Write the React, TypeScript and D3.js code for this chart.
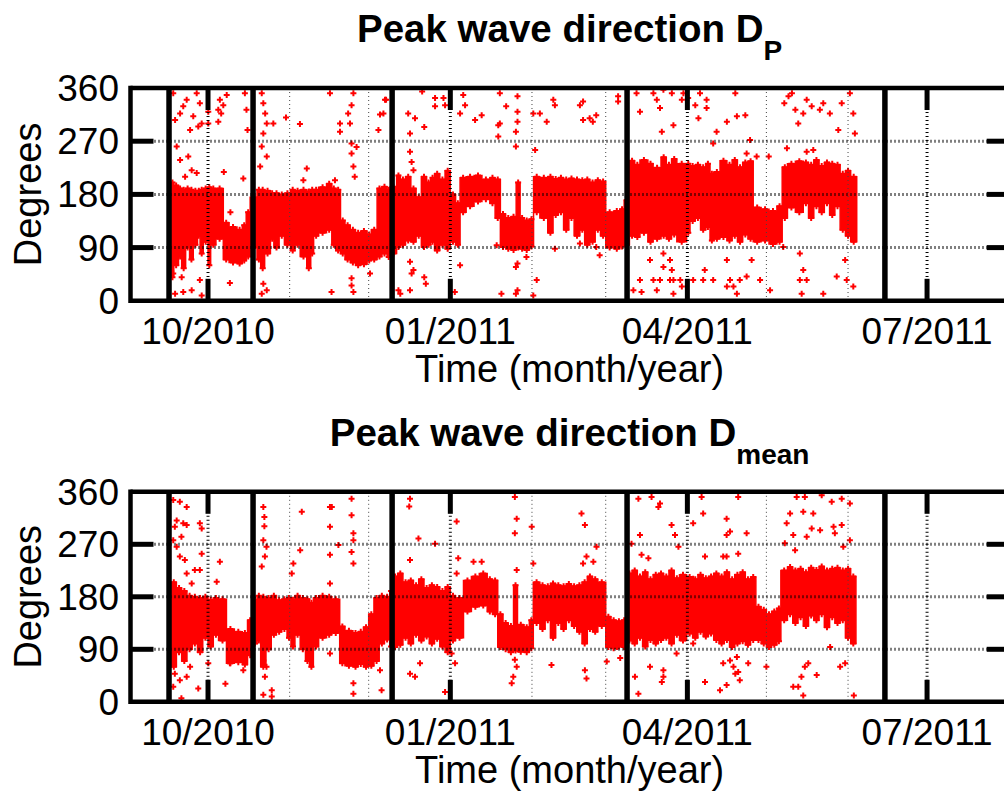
import React from 'react';
import * as d3 from 'd3';

// ---------- data (day offsets from 2010-09-01 UTC) ----------
const T0 = Date.UTC(2010, 8, 1);
const dayToDate = (d: number) => new Date(T0 + d * 86400000);

const xDomainDays = [0, 334];
const quarterTicks = ['2010-10-01', '2011-01-01', '2011-04-01', '2011-07-01'];
const monthGrid = ['2010-11-01', '2010-12-01', '2011-02-01', '2011-03-01', '2011-05-01', '2011-06-01'];
const yTicks = [0, 90, 180, 270, 360];
const yGrid = [90, 180, 270];
const deploymentDays = [15.2, 47.1, 99.9, 189.1, 287.0];

// dense band of Dp: [day, low, high] (step)
const dpBand: [number, number, number][] = [
  [16, 40, 200], [17, 60, 195], [18.8, 75, 190], [20, 55, 188], [21.5, 90, 190], [23, 70, 188],
  [24.4, 95, 186], [26, 110, 186], [27, 80, 188], [28.2, 100, 190], [30, 60, 192], [31, 95, 190],
  [33, 105, 190], [35.8, 70, 132], [38, 65, 125], [41, 63, 120], [43, 68, 128], [44.5, 75, 150],
  [46, 90, 175], [48.6, 70, 188], [50, 55, 188], [51.5, 80, 186], [53.7, 105, 182], [55, 90, 182],
  [57, 110, 180], [59, 95, 182], [61.3, 85, 188], [63, 95, 186], [65, 75, 188], [67.5, 55, 185],
  [69, 80, 188], [70.1, 110, 188], [72, 115, 192], [75, 120, 198], [77, 95, 190], [78.5, 85, 188],
  [80.3, 80, 136], [82, 70, 128], [84, 65, 120], [86, 60, 115], [88, 62, 118], [90.4, 68, 112],
  [92, 70, 120], [94.2, 75, 190], [96, 80, 193], [98, 74, 188], [99.2, 80, 193], [101.6, 91, 212],
  [103, 95, 205], [105, 102, 210], [107, 100, 190], [109, 110, 175], [111, 91, 210], [113, 95, 200],
  [114.5, 100, 208], [116, 85, 215], [118, 95, 205], [120, 88, 220], [122, 100, 180], [124, 95, 165],
  [125.7, 150, 208], [128, 160, 210], [131, 168, 212], [134, 172, 205], [137, 165, 208], [139, 140, 205],
  [141, 91, 147], [143, 88, 140], [145, 86, 142], [147, 90, 200], [148.5, 88, 140], [150, 86, 136],
  [152, 92, 138], [153.6, 150, 210], [156, 140, 208], [159, 115, 210], [161, 145, 206], [163, 150, 208],
  [165, 120, 205], [167, 140, 207], [169, 110, 205], [171.2, 120, 204], [173, 95, 205], [175, 100, 200],
  [177, 120, 204], [179, 110, 202], [181, 90, 150], [184, 88, 152], [186.4, 92, 155], [188, 95, 170],
  [190, 110, 237], [192, 108, 230], [194, 115, 238], [197, 100, 232], [199, 105, 225], [202, 110, 243],
  [204, 105, 230], [206, 112, 240], [208, 100, 232], [211.7, 115, 232], [213, 135, 228], [215, 140, 230],
  [217, 120, 226], [219, 125, 232], [220.6, 102, 215], [222, 105, 218], [224.4, 108, 237], [227, 102, 230],
  [229, 110, 238], [231, 100, 226], [233, 112, 234], [235, 105, 236], [237, 100, 158], [240, 102, 155],
  [243, 96, 152], [246, 100, 160], [248, 140, 226], [250, 158, 232], [253, 150, 236], [256, 165, 234],
  [258, 140, 230], [260, 160, 238], [262, 150, 228], [264, 165, 234], [266, 145, 232], [268, 160, 230],
  [270, 120, 215], [272, 110, 220], [274, 100, 210], [276.3, 100, 210],
];

// scattered Dp points: [day, degrees]
const dpScatter: [number, number][] = [
  [16.8, 351], [19.4, 317], [17.5, 306], [20.6, 329], [21.9, 340], [24.4, 312], [25.7, 351], [26.9, 334],
  [27.6, 300], [26.3, 295], [23.2, 289], [18.1, 261], [19.4, 238], [22.5, 244], [23.8, 221], [25.7, 216],
  [21.3, 210], [30.1, 320], [30.1, 300], [34.5, 340], [33.9, 323], [35.8, 331], [37.1, 348], [35, 317],
  [33.9, 303], [36, 218], [38.5, 150], [43.4, 207], [44.6, 323], [44, 351], [45, 289],
  [16.8, 46], [17.5, 12], [20.6, 15], [23.8, 18], [27.6, 9], [26.9, 35], [20, 40], [38.3, 30],
  [50.4, 351], [51, 334], [51.7, 317], [52.3, 300], [51, 283], [50.4, 261], [52.3, 244], [49.8, 227],
  [51, 29], [50.4, 12], [52.3, 18], [54.8, 300], [59.6, 310], [64.9, 299], [67.5, 224], [66.2, 204],
  [76.3, 351], [80.1, 300], [80.1, 286], [84.5, 331], [85.2, 351], [84.5, 266], [84.5, 249], [85.2, 227],
  [86.4, 260], [83.9, 300], [83.2, 317], [85.7, 210], [95.3, 315], [94.7, 289], [97.6, 340], [76.9, 15],
  [84.5, 38], [84.5, 26], [85.2, 15], [91.5, 46], [78.2, 204],
  [97.2, 340], [96.6, 317], [106, 317], [106.7, 283], [108.6, 309], [106.7, 252], [107.3, 235], [108, 221],
  [111.3, 354], [112.1, 294], [116.2, 343], [116.2, 329], [119.4, 343], [120, 331], [125.7, 317], [126.9, 348],
  [127.6, 331], [131.4, 306], [133.9, 314], [140.2, 297], [140.8, 300], [140.8, 351], [140.2, 278], [143.2, 329],
  [147.5, 320], [147.5, 303], [146.9, 286], [147.5, 346], [146.9, 261], [153.5, 317], [156, 317], [154.2, 255],
  [158.6, 303], [161.1, 340], [161.7, 331], [172.4, 337], [171.2, 331], [172.4, 306], [174.9, 309], [176.1, 303],
  [177.4, 314], [185.7, 346], [185.7, 337],
  [106.7, 66], [108, 52], [107.3, 46], [112.1, 40], [112.7, 29], [106.7, 18], [102.3, 18], [103, 12],
  [123.7, 15], [125.7, 60], [147.5, 63], [146.9, 57], [147.5, 18], [146.9, 12], [141.4, 12], [139.6, 94],
  [150.9, 74], [154.8, 35], [153.5, 9], [161.7, 88], [171.2, 97], [177.4, 91], [178.7, 77],
  [192.7, 351], [194, 320], [199.1, 351], [200.4, 340], [201.6, 326], [202.3, 286], [202.9, 357], [206.7, 297],
  [206.1, 351], [210.5, 351], [209.9, 340], [212.3, 343], [215, 331], [216.8, 351], [219.3, 340], [216.2, 309],
  [219.3, 326], [223.1, 286], [221.8, 266], [227, 303], [230.8, 312], [234, 314], [230.2, 351], [235.8, 272],
  [238.3, 244], [234.5, 249], [242.9, 244], [249.8, 258], [248.8, 334], [250.4, 346], [251.7, 351], [253, 323],
  [254.1, 300], [256, 317], [257.3, 340], [259.2, 329], [262.3, 323], [263.6, 334], [266.1, 317], [269.3, 289],
  [270.6, 334], [273.7, 351], [275, 317], [275.6, 283], [257.3, 252], [259.8, 255],
  [197.8, 69], [202.9, 80], [202.9, 57], [205.4, 69], [206.1, 52], [206.7, 35], [205.4, 35], [199.1, 35],
  [200.4, 18], [201.6, 35], [194, 35], [194.6, 15], [191.5, 18], [209.3, 35], [209.9, 24], [206.7, 12],
  [214.2, 35], [218, 35], [218.6, 52], [221.8, 35], [227, 69], [228.2, 35], [229.5, 24], [230.8, 12],
  [231.9, 35], [234.5, 41], [227, 24], [236.4, 69], [239.6, 35], [243.4, 18], [248.4, 91], [254.7, 80],
  [254.7, 35], [256, 52], [257.3, 35], [255.4, 12], [263.6, 12], [268.7, 41], [271.9, 69], [272.5, 35], [275, 24],
];

// dense band of Dmean: [day, low, high] (step)
const dmBand: [number, number, number][] = [
  [16, 60, 205], [18, 85, 195], [20, 70, 190], [22, 90, 182], [24, 100, 180], [26, 85, 178],
  [28, 110, 180], [30, 95, 175], [32, 115, 178], [34, 105, 176], [37, 66, 125], [40, 68, 120],
  [43, 64, 118], [45, 80, 140], [47, 100, 175], [48.6, 105, 182], [50, 60, 180], [52, 90, 178],
  [54, 115, 182], [56, 120, 174], [58, 125, 176], [60, 110, 178], [61.5, 95, 175], [63, 115, 182],
  [65, 90, 178], [67, 70, 176], [68.5, 60, 170], [70, 95, 178], [72, 110, 182], [75, 115, 180],
  [77, 118, 176], [80, 66, 129], [82, 62, 122], [85, 60, 118], [87, 65, 120], [89, 60, 128],
  [91, 62, 150], [93, 70, 178], [95, 100, 182], [97, 107, 180], [99, 95, 190], [100, 94, 215],
  [102, 98, 220], [104, 110, 205], [106, 100, 208], [108, 115, 200], [110, 105, 210], [112, 112, 195],
  [114, 100, 200], [116, 108, 197], [118, 95, 190], [120, 85, 197], [122, 105, 182], [124, 110, 178],
  [127, 155, 208], [130, 163, 215], [133, 165, 220], [136, 155, 210], [138, 150, 208], [140, 94, 150],
  [142, 90, 135], [144, 85, 130], [146, 88, 200], [147.5, 86, 132], [150, 85, 128], [152, 92, 140],
  [153.5, 135, 205], [156, 125, 200], [158, 140, 198], [160, 110, 203], [162, 135, 200], [164, 125, 198],
  [166, 140, 202], [168, 130, 198], [170, 120, 200], [172, 100, 205], [174, 125, 215], [176, 120, 210],
  [178, 130, 205], [181, 94, 146], [183, 92, 140], [185, 95, 138], [187, 94, 140], [189, 105, 220],
  [191, 100, 225], [193, 110, 215], [195, 95, 222], [197, 106, 210], [199, 100, 218], [201, 106, 220],
  [203, 110, 215], [205, 100, 225], [207, 115, 212], [209, 105, 218], [211.7, 117, 214], [214, 110, 210],
  [216, 120, 218], [218, 112, 212], [220, 117, 215], [222, 106, 220], [224, 100, 215], [226, 106, 222],
  [228, 94, 210], [230, 100, 218], [232, 104, 222], [234, 98, 210], [236, 106, 214], [238, 106, 163],
  [240, 100, 158], [242, 94, 150], [244, 98, 155], [246, 104, 160], [247.5, 140, 225], [250, 150, 231],
  [252, 135, 225], [254, 145, 228], [256, 130, 222], [258, 148, 230], [260, 140, 226], [262, 150, 232],
  [264, 128, 225], [266, 145, 228], [268, 135, 230], [270, 140, 225], [272, 110, 228], [274, 100, 215],
  [276, 100, 215],
];

// scattered Dmean points: [day, degrees]
const dmScatter: [number, number][] = [
  [16.8, 346], [19.3, 343], [21.9, 334], [18.1, 311], [17.4, 300], [20.6, 306], [21.9, 303], [19.9, 283],
  [16.8, 277], [18.1, 266], [19.3, 249], [21.2, 243], [21.9, 220], [26.9, 306], [27.6, 297], [27.6, 254],
  [26.9, 226], [34.5, 240], [33.3, 206], [23.8, 203], [25, 226],
  [17.4, 48], [19.3, 37], [16.8, 26], [19.9, 6], [21.9, 43], [23.2, 60], [26.3, 23], [30.1, 66],
  [36.6, 31], [38.3, 66], [43.4, 54],
  [51, 334], [51.4, 317], [51.4, 301], [51, 277], [51.6, 249], [50.4, 232], [52.2, 266], [51, 71],
  [52.2, 60], [51.6, 43], [54.2, 20], [54.2, 9], [51, 12], [62.4, 237], [61.8, 220], [65.6, 326],
  [65, 260], [76.3, 334], [76.3, 300], [76.3, 252], [76.3, 203], [76.3, 83],
  [84.5, 348], [84.5, 320], [85.2, 289], [85.2, 277], [84.5, 257], [85.2, 237], [85.2, 32], [85.2, 14],
  [95.9, 20], [95.3, 54], [79.5, 269], [77, 334], [106.7, 348], [106.4, 335], [109.9, 280], [106.7, 243],
  [106.7, 48], [108.6, 43], [110.5, 66], [116.2, 271], [120, 17], [124.4, 309], [125, 246], [124.4, 220],
  [123.8, 66], [122.5, 83], [130.8, 240], [133.9, 240], [145.3, 32], [146.5, 351], [147.2, 314], [146.5, 289],
  [147.2, 226], [146.5, 72], [147.2, 60], [145.9, 43], [141.1, 94], [153.5, 237], [152.9, 300], [160.4, 63],
  [171.8, 323], [173.1, 303], [173.7, 249], [172.4, 237], [176.3, 240], [173.7, 40], [173.1, 54], [177.5, 266],
  [181.4, 69], [186.5, 75], [185.3, 94], [190.8, 271], [193.4, 348], [198.4, 351], [201, 334], [194, 286],
  [197.2, 246], [194.6, 252], [192.1, 43], [193.4, 14], [197.8, 60], [202.3, 34], [202.9, 43],
  [201.6, 340], [206, 303], [207.3, 286], [208.6, 266], [214.2, 306], [217.4, 351], [218, 323], [226.9, 314],
  [228.2, 292], [226.9, 286], [231.3, 351], [231.3, 254], [234.5, 289], [225.6, 249], [226.9, 249], [253.5, 351],
  [256.6, 351], [263, 354], [266.8, 343], [270.6, 348], [273.7, 340], [251, 323], [256, 326], [259.8, 323],
  [259.2, 297], [257.3, 283], [262.4, 294], [267.5, 300], [270.6, 303], [268, 289], [249.7, 306], [252.2, 286],
  [249, 272], [252.9, 260], [214.2, 211], [218.7, 249], [271.2, 266], [273.7, 277],
  [202.9, 54], [207.9, 83], [214.2, 100], [218.7, 34], [224.4, 20], [225.6, 66], [228.2, 71], [229.5, 60],
  [230.2, 48], [231.3, 51], [231.9, 37], [226.9, 29], [230.8, 77], [235.1, 66], [242, 60], [252.2, 26],
  [254.1, 26], [255.3, 43], [256.6, 60], [257.9, 66], [261.1, 46], [256, 11], [266.2, 94], [270, 60],
  [271.9, 66], [275.2, 11],
];

// ---------- drawing ----------
const W = 1004;
const H = 794;
const FONT = '"Liberation Sans", Arial, Helvetica, sans-serif';
const RED = '#ff0000';
const fmt = d3.utcFormat('%m/%Y');

const x = d3.scaleUtc()
  .domain([dayToDate(xDomainDays[0]), dayToDate(xDomainDays[1])])
  .range([129, 1008.7]);

const plus = 'M-3,0H3M0,-3V3';

type PanelProps = {
  top: number;
  bottom: number;
  title: string;
  sub: string;
  band: [number, number, number][];
  scatter: [number, number][];
  id: string;
};

function Panel({ top, bottom, title, sub, band, scatter, id }: PanelProps) {
  const y = d3.scaleLinear().domain([0, 360]).range([bottom, top]);
  const left = x.range()[0] + 1.5;
  const right = x.range()[1];
  const area = d3.area<[number, number, number]>()
    .x((d) => x(dayToDate(d[0])))
    .y0((d) => y(d[1]))
    .y1((d) => y(d[2]))
    .curve(d3.curveStepAfter);
  const edgePts: [number, number][] = [];
  band.slice(0, -1).forEach((d, i) => {
    const mid = (d[0] + band[i + 1][0]) / 2;
    edgePts.push([mid, d[1]], [mid, d[2]]);
  });
  const cx = (left + right) / 2;
  return (
    <g>
      <defs>
        <clipPath id={id}>
          <rect x={left} y={top} width={right - left} height={bottom - top} />
        </clipPath>
      </defs>
      <g clipPath={`url(#${id})`}>
        <path d={area(band) || ''} fill={RED} stroke={RED} strokeWidth={1.5} />
        {edgePts.map((p, i) => (
          <path key={'e' + i} d={plus} transform={`translate(${x(dayToDate(p[0]))},${y(p[1])})`}
            stroke={RED} strokeWidth={2} fill="none" />
        ))}
        {scatter.map((p, i) => (
          <path key={'s' + i} d={plus} transform={`translate(${x(dayToDate(p[0]))},${y(p[1])})`}
            stroke={RED} strokeWidth={2} fill="none" />
        ))}
        {/* grid */}
        {monthGrid.map((m) => (
          <line key={m} x1={x(new Date(m))} x2={x(new Date(m))} y1={top} y2={bottom}
            stroke="#444" strokeWidth={1} strokeDasharray="1 3" />
        ))}
        {quarterTicks.map((q) => (
          <line key={q} x1={x(new Date(q))} x2={x(new Date(q))} y1={top} y2={bottom}
            stroke="#000" strokeWidth={3} strokeDasharray="1 3" />
        ))}
        {yGrid.map((v) => (
          <line key={v} x1={left} x2={right} y1={y(v)} y2={y(v)}
            stroke="#000" strokeWidth={3} strokeDasharray="1 3" />
        ))}
        {/* deployment lines */}
        {deploymentDays.map((d) => (
          <line key={d} x1={x(dayToDate(d))} x2={x(dayToDate(d))} y1={top} y2={bottom}
            stroke="#000" strokeWidth={5.5} />
        ))}
      </g>
      {/* ticks */}
      {quarterTicks.map((q) => (
        <g key={q}>
          <line x1={x(new Date(q))} x2={x(new Date(q))} y1={top} y2={top + 22} stroke="#000" strokeWidth={5} />
          <line x1={x(new Date(q))} x2={x(new Date(q))} y1={bottom - 22} y2={bottom} stroke="#000" strokeWidth={5} />
          <text x={x(new Date(q))} y={bottom + 43} textAnchor="middle" fontFamily={FONT} fontSize={37}>
            {fmt(new Date(q))}
          </text>
        </g>
      ))}
      {yTicks.map((v) => (
        <g key={v}>
          {v > 0 && v < 360 && (
            <>
              <line x1={left} x2={left + 23} y1={y(v)} y2={y(v)} stroke="#000" strokeWidth={5} />
              <line x1={right - 22} x2={right} y1={y(v)} y2={y(v)} stroke="#000" strokeWidth={5} />
            </>
          )}
          <text x={119} y={y(v) + 13} textAnchor="end" fontFamily={FONT} fontSize={37}>{v}</text>
        </g>
      ))}
      {/* spines */}
      <line x1={left} x2={right + 5} y1={top} y2={top} stroke="#000" strokeWidth={4.5} />
      <line x1={left} x2={right + 5} y1={bottom} y2={bottom} stroke="#000" strokeWidth={4.5} />
      <line x1={left} x2={left} y1={top - 2.25} y2={bottom + 2.25} stroke="#000" strokeWidth={4.5} />
      <line x1={right} x2={right} y1={top - 2.25} y2={bottom + 2.25} stroke="#000" strokeWidth={4.5} />
      {/* labels */}
      <text x={cx} y={bottom + 81} textAnchor="middle" fontFamily={FONT} fontSize={38}>
        Time (month/year)
      </text>
      <text transform={`translate(41,${(top + bottom) / 2}) rotate(-90)`} textAnchor="middle"
        fontFamily={FONT} fontSize={38}>Degrees</text>
      <text x={cx} y={top - 46} textAnchor="middle" fontFamily={FONT} fontSize={38.5} fontWeight="bold">
        {title}
        <tspan dy={18} fontSize={28}>{sub}</tspan>
      </text>
    </g>
  );
}

export default function App() {
  return (
    <svg width={W} height={H} viewBox={`0 0 ${W} ${H}`}
      style={{ position: 'absolute', left: 0, top: 0, background: '#fff' }}>
      <rect width={W} height={H} fill="#fff" />
      <Panel id="cp1" top={88} bottom={300.8} title="Peak wave direction D" sub="P"
        band={dpBand} scatter={dpScatter} />
      <Panel id="cp2" top={491.8} bottom={701.8} title="Peak wave direction D" sub="mean"
        band={dmBand} scatter={dmScatter} />
    </svg>
  );
}
